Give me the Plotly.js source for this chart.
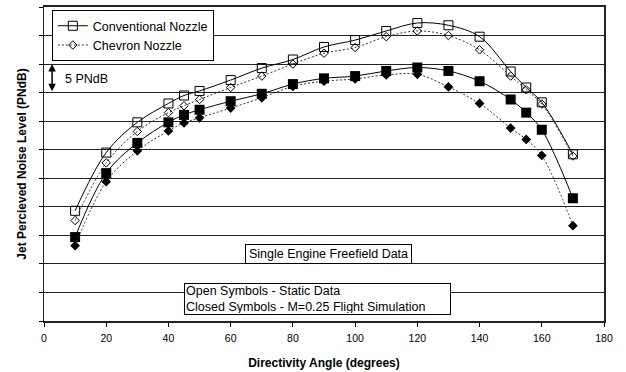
<!DOCTYPE html>
<html>
<head>
<meta charset="utf-8">
<script src="https://cdn.plot.ly/plotly-3.0.1.min.js"></script>
<style>html,body{margin:0;padding:0;background:#fff;}#chart{width:626px;height:372px;}</style>
</head>
<body>
<div id="chart"></div>
<script>
// Directivity angles (degrees)
const angles = [10, 20, 30, 40, 45, 50, 60, 70, 80, 90, 100, 110, 120, 130, 140, 150, 155, 160, 170];
// Relative PNdB levels (axis is unlabelled; 5 PNdB per grid division)
const convStatic   = [19.3, 29.5, 34.8, 38.1, 39.5, 40.3, 42.2, 44.3, 45.8, 48.0, 49.2, 50.8, 52.2, 51.8, 49.8, 43.7, 40.9, 38.3, 29.2];
const chevStatic   = [17.6, 27.7, 33.2, 36.5, 37.7, 38.8, 40.9, 42.9, 45.0, 46.9, 47.9, 49.8, 50.8, 50.0, 47.5, 42.9, 40.5, 38.0, 28.9];
const convFlight   = [14.7, 25.9, 31.2, 34.8, 36.1, 37.0, 38.5, 39.8, 41.5, 42.5, 42.9, 43.8, 44.4, 43.8, 42.0, 38.8, 36.5, 33.5, 21.5];
const chevFlight   = [13.2, 24.4, 29.8, 33.3, 34.7, 35.6, 37.3, 39.1, 41.1, 42.0, 42.4, 43.1, 43.2, 41.0, 38.1, 33.8, 31.8, 29.0, 16.7];
const xTicks = [0, 20, 40, 60, 80, 100, 120, 140, 160, 180];

const FONT = 'Liberation Sans, Arial, sans-serif';

const solid = {color: '#000', width: 1, shape: 'spline', smoothing: 1};
const dotted = {color: '#333', width: 1, dash: '2px,2px', shape: 'spline', smoothing: 1};

const traces = [
  {x: angles, y: convStatic, name: 'Conventional Nozzle', mode: 'lines+markers', line: solid,
   marker: {symbol: 'square-open', size: 9, color: '#000', line: {width: 1, color: '#000'}}},
  {x: angles, y: chevStatic, name: 'Chevron Nozzle', mode: 'lines+markers', line: dotted,
   marker: {symbol: 'diamond-open', size: 6.5, color: '#000', line: {width: 1, color: '#000'}}},
  {x: angles, y: convFlight, name: 'Conventional Flight', showlegend: false, mode: 'lines+markers', line: solid,
   marker: {symbol: 'square', size: 10, color: '#000'}},
  {x: angles, y: chevFlight, name: 'Chevron Flight', showlegend: false, mode: 'lines+markers', line: dotted,
   marker: {symbol: 'diamond', size: 7.5, color: '#000'}}
];

const layout = {
  width: 626, height: 372,
  margin: {l: 44, r: 22, t: 7, b: 51},
  paper_bgcolor: '#fff', plot_bgcolor: '#fff',
  font: {family: FONT, color: '#000', size: 11},
  showlegend: true,
  legend: {x: 0.014, y: 0.99, xanchor: 'left', yanchor: 'top', bgcolor: '#fff',
           bordercolor: '#000', borderwidth: 1, font: {family: FONT, size: 12.5, color: '#000'},
           itemwidth: 30, tracegroupgap: 0},
  xaxis: {range: [0, 180], tickvals: xTicks, ticktext: xTicks.map(String), ticks: 'outside', ticklen: 4,
          tickcolor: '#000', showgrid: false, zeroline: false, showline: true, linecolor: '#222',
          linewidth: 2, mirror: true, tickfont: {family: FONT, size: 10.5}, ticklabelstandoff: 2,
          title: {text: '<b>Directivity Angle (degrees)</b>', font: {family: FONT, size: 12}, standoff: 16}},
  yaxis: {range: [0, 55], dtick: 5, tick0: 0, ticks: 'outside', ticklen: 4, tickcolor: '#000',
          showticklabels: false, showgrid: true, gridcolor: '#222', gridwidth: 1, zeroline: false,
          showline: true, linecolor: '#222', linewidth: 1.5, mirror: true,
          title: {text: '<b>Jet Percieved Noise Level (PNdB)</b>', font: {family: FONT, size: 12}, standoff: 9}},
  annotations: [
    {xref: 'x', yref: 'y', axref: 'x', ayref: 'y', x: 2.6, y: 45, ax: 2.6, ay: 40, text: '',
     showarrow: true, arrowside: 'end+start', arrowhead: 2, arrowsize: 1, arrowwidth: 1.5, arrowcolor: '#000'},
    {xref: 'paper', yref: 'paper', x: 0.034, y: 0.771, xanchor: 'left', yanchor: 'middle', showarrow: false,
     text: '5 PNdB', font: {family: FONT, size: 12.5}},
    {xref: 'paper', yref: 'paper', x: 0.3589, y: 0.2143, xanchor: 'left', yanchor: 'middle', showarrow: false,
     text: 'Single Engine Freefield Data', font: {family: FONT, size: 12.5}, bgcolor: '#fff',
     bordercolor: '#000', borderwidth: 1, borderpad: 1, width: 163, height: 16},
    {xref: 'paper', yref: 'paper', x: 0.25, y: 0.0707, xanchor: 'left', yanchor: 'middle', showarrow: false,
     align: 'left', text: 'Open Symbols - Static Data<br>Closed Symbols - M=0.25 Flight Simulation',
     font: {family: FONT, size: 12.5}, bgcolor: '#fff', bordercolor: '#000', borderwidth: 1, borderpad: 1,
     width: 263, height: 28}
  ]
};

Plotly.newPlot('chart', traces, layout, {displayModeBar: false, staticPlot: true});
</script>
</body>
</html>
